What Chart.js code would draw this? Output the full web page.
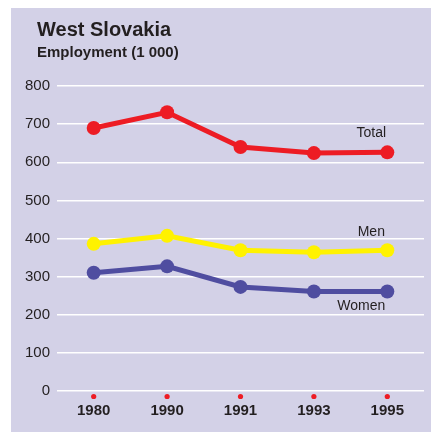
<!DOCTYPE html>
<html>
<head>
<meta charset="utf-8">
<script src="https://cdn.jsdelivr.net/npm/chart.js@4/dist/chart.umd.min.js"></script>
<style>
    html, body { margin: 0; padding: 0; background: #fff; }
    #wrap { position: relative; width: 431px; height: 432px; overflow: hidden; }
    #panel { position: absolute; left: 11px; top: 8px; right: 0; bottom: 0; background: #d3d1e7; }
    #chart { position: absolute; left: 0; top: 0; }
    .title { position: absolute; left: 37px; font-family: "Liberation Sans", Arial, sans-serif; font-weight: bold; color: #231f20; white-space: nowrap; }
    #t1 { top: 19px; font-size: 20px; line-height: 20px; }
    #t2 { top: 44px; font-size: 15px; line-height: 15px; }
</style>
</head>
<body>
<div id="wrap">
    <div id="panel"></div>
    <canvas id="chart" width="431" height="432"></canvas>
    <div class="title" id="t1">West Slovakia</div>
    <div class="title" id="t2">Employment (1 000)</div>
</div>
<script>
// Chart data
const years = ['1980', '1990', '1991', '1993', '1995'];
const totalValues = [690, 731, 640, 624, 626];
const menValues = [386, 407, 369, 364, 369];
const womenValues = [310, 327, 273, 261, 261];
const yTicks = [0, 100, 200, 300, 400, 500, 600, 700, 800];

const FONT = '"Liberation Sans", Arial, sans-serif';
const TEXT = '#231f20';

// Series labels placed next to the last point of each line
const seriesLabels = {
    0: { text: 'Total', dx: -16, dy: -19 },
    1: { text: 'Men', dx: -16, dy: -18 },
    2: { text: 'Women', dx: -26, dy: 15 }
};

const decorPlugin = {
    id: 'decor',
    afterDatasetsDraw(chart) {
        const ctx = chart.ctx;
        const xScale = chart.scales.x;
        const bottom = chart.chartArea.bottom;
        ctx.save();
        // small red dots under each year
        ctx.fillStyle = '#ed1c24';
        xScale.ticks.forEach((t, i) => {
            ctx.beginPath();
            ctx.arc(xScale.getPixelForTick(i), bottom + 5.5, 2.6, 0, Math.PI * 2);
            ctx.fill();
        });
        // series names
        ctx.font = '14px ' + FONT;
        ctx.fillStyle = TEXT;
        ctx.textAlign = 'center';
        ctx.textBaseline = 'middle';
        Object.keys(seriesLabels).forEach(k => {
            const meta = chart.getDatasetMeta(k);
            const pt = meta.data[meta.data.length - 1];
            const l = seriesLabels[k];
            ctx.fillText(l.text, pt.x + l.dx, pt.y + l.dy);
        });
        ctx.restore();
    }
};

function lineSet(label, data, color) {
    return {
        label: label,
        data: data,
        borderColor: color,
        backgroundColor: color,
        borderWidth: 5,
        pointRadius: 7,
        pointHoverRadius: 7,
        pointBorderWidth: 0,
        tension: 0
    };
}

new Chart(document.getElementById('chart'), {
    type: 'line',
    data: {
        labels: years,
        datasets: [
            lineSet('Total', totalValues, '#ed1c24'),
            lineSet('Men', menValues, '#fff200'),
            lineSet('Women', womenValues, '#4f4da0')
        ]
    },
    options: {
        responsive: false,
        animation: false,
        layout: { padding: { top: 86, right: 5.5, left: 0, bottom: 0 } },
        plugins: {
            legend: { display: false },
            tooltip: { enabled: false }
        },
        scales: {
            x: {
                offset: true,
                grid: { display: false, drawTicks: false },
                border: { display: false },
                ticks: {
                    padding: 11,
                    color: TEXT,
                    font: { family: FONT, size: 15, weight: 'bold' }
                },
                afterFit(scale) { scale.height = 41; }
            },
            y: {
                min: 0,
                max: 800,
                afterBuildTicks(scale) { scale.ticks = yTicks.map(v => ({ value: v })); },
                grid: { color: '#ffffff', lineWidth: 1.5, drawTicks: false },
                border: { display: false },
                ticks: {
                    padding: 7,
                    color: TEXT,
                    font: { family: FONT, size: 15 }
                },
                afterFit(scale) { scale.width = 57; }
            }
        }
    },
    plugins: [decorPlugin]
});
</script>
</body>
</html>
